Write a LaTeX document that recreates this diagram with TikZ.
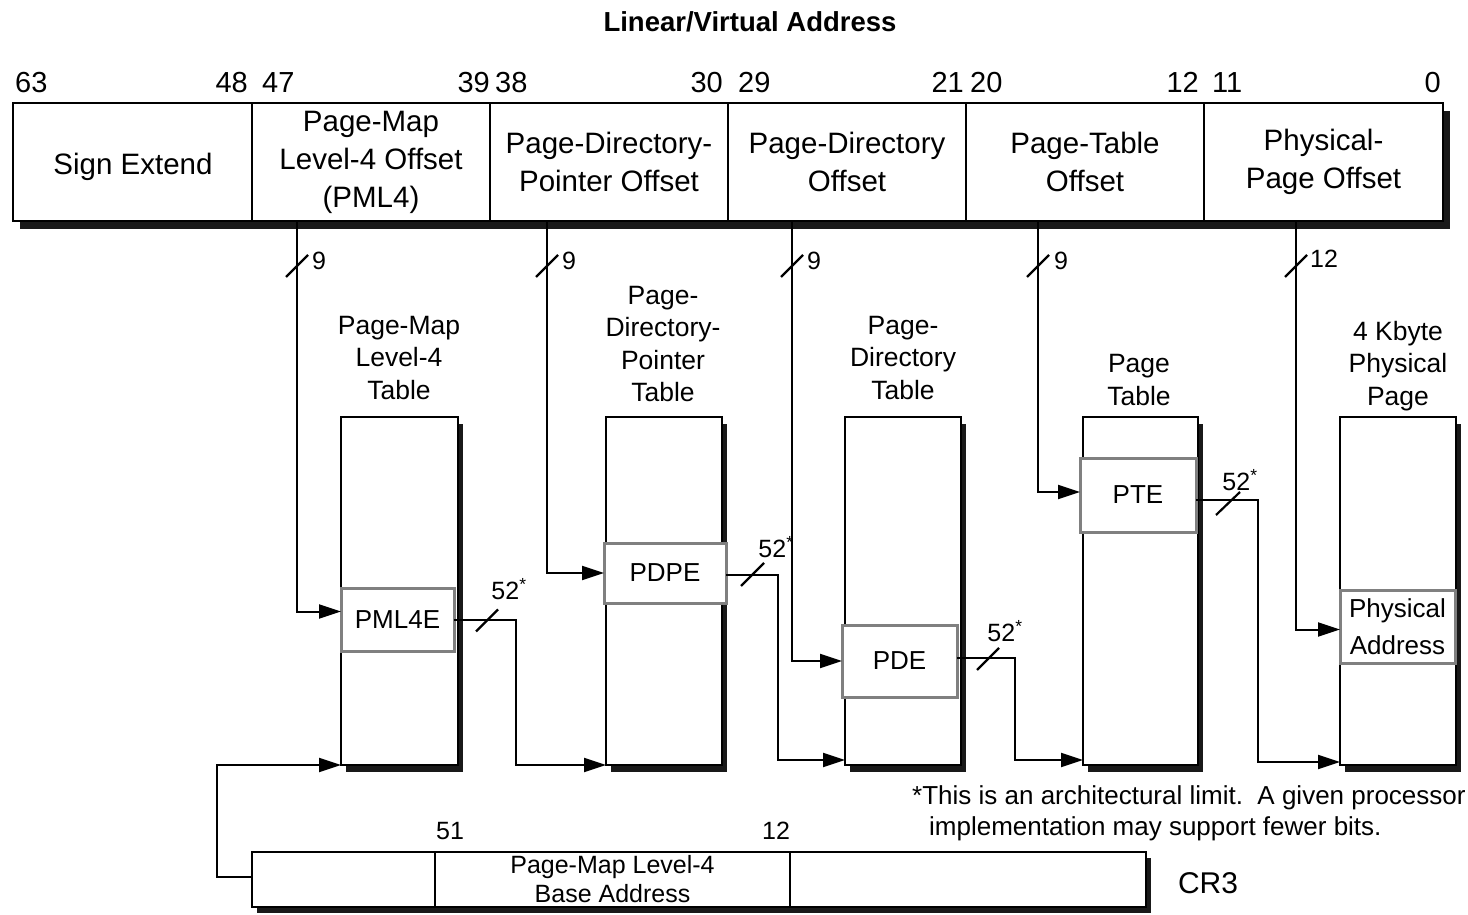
\documentclass[tikz,border=0pt]{standalone}
\usepackage{fontspec}
\setmainfont{Liberation Sans}
\usetikzlibrary{arrows.meta,shadows,calc}
\newcommand\hdrfont{\fontsize{29.5}{38}\selectfont}
\newcommand\numfont{\fontsize{29}{32}\selectfont}
\newcommand\ttlfont{\fontsize{26.5}{32.5}\selectfont}
\newcommand\entfont{\fontsize{26}{37}\selectfont}
\newcommand\smlfont{\fontsize{25}{29}\selectfont}
\newcommand\fnfont{\fontsize{26}{31}\selectfont}
\begin{document}
\begin{tikzpicture}[x=1pt,y=-1pt,
  box/.style={draw, line width=2pt, fill=white, inner sep=0pt, outer sep=0pt, anchor=north west},
  bar/.style={box, drop shadow={shadow xshift=7pt,shadow yshift=-8pt,fill=black!90,opacity=1}},
  tbl/.style={box, minimum height=348pt, drop shadow={shadow xshift=5pt,shadow yshift=-7pt,fill=black!90,opacity=1}},
  field/.style={draw, line width=2pt, inner sep=0pt, outer sep=0pt, anchor=north west, minimum height=118pt, align=center, font=\hdrfont},
  cfield/.style={draw, line width=1.8pt, inner sep=0pt, outer sep=0pt, anchor=north west, minimum height=55pt, align=center, font=\smlfont},
  entry/.style={draw=black!50, line width=3pt, fill=white, inner sep=0pt, outer sep=0pt, anchor=north west, align=center, font=\entfont},
  ttl/.style={align=center, inner sep=0pt, font=\ttlfont},
  num/.style={inner sep=0pt, font=\numfont},
  lbl/.style={inner sep=0pt, font=\smlfont},
  arr/.style={line width=2pt, -{Triangle[length=22pt,width=14pt]}},
  slash/.style={line width=2.2pt}
]
\useasboundingbox (0,0) rectangle (1468,915);

% title
\node[inner sep=0pt, font=\fontsize{27.5}{32}\selectfont\bfseries] (title) at (750,22) {Linear/Virtual Address};

% header bar
\node[bar, minimum width=1430pt, minimum height=118pt] (hdr) at (13,103) {};
\node[field, minimum width=239pt] (f1) at (13,103) {};
\node[inner sep=0pt, font=\hdrfont] (se) at (133,167) {Sign Extend};
\node[field, minimum width=238pt] (f2) at (252,103) {Page-Map\\Level-4 Offset\\(PML4)};
\node[field, minimum width=238pt] (f3) at (490,103) {Page-Directory-\\Pointer Offset};
\node[field, minimum width=238pt] (f4) at (728,103) {Page-Directory\\Offset};
\node[field, minimum width=238pt] (f5) at (966,103) {Page-Table\\Offset};
\node[field, minimum width=239pt] (f6) at (1204,103) {Physical-\\Page Offset};

% bit numbers
\node[num, anchor=base west] (b63) at (15,93) {63};
\node[num, anchor=base east] (b48) at (248,93) {48};
\node[num, anchor=base west] (b47) at (262,93) {47};
\node[num, anchor=base east] (b39) at (490,93) {39};
\node[num, anchor=base west] (b38) at (495,93) {38};
\node[num, anchor=base east] (b30) at (723,93) {30};
\node[num, anchor=base west] (b29) at (738,93) {29};
\node[num, anchor=base east] (b21) at (964,93) {21};
\node[num, anchor=base west] (b20) at (970,93) {20};
\node[num, anchor=base east] (b12) at (1199,93) {12};
\node[num, anchor=base west] (b11) at (1212,93) {11};
\node[num, anchor=base east] (b0) at (1441,93) {0};

% tables
\node[tbl, minimum width=117pt] (t1) at (341,417) {};
\node[tbl, minimum width=116pt] (t2) at (606,417) {};
\node[tbl, minimum width=116pt] (t3) at (845,417) {};
\node[tbl, minimum width=115pt] (t4) at (1083,417) {};
\node[tbl, minimum width=116pt] (t5) at (1340,417) {};

\node[ttl] (tt1) at (399,358) {Page-Map\\Level-4\\Table};
\node[ttl] (tt2) at (663,344) {Page-\\Directory-\\Pointer\\Table};
\node[ttl] (tt3) at (903,358) {Page-\\Directory\\Table};
\node[ttl] (tt4) at (1139,380) {Page\\Table};
\node[ttl] (tt5) at (1398,366) {4 Kbyte\\Physical\\Page};

% entries
\node[entry, minimum width=113pt, minimum height=63pt] (pml4e) at (341,588) {PML4E};
\node[entry, minimum width=122pt, minimum height=60pt] (pdpe) at (604,543) {PDPE};
\node[entry, minimum width=115pt, minimum height=72pt] (pde) at (842,625) {PDE};
\node[entry, minimum width=116pt, minimum height=74pt] (pte) at (1080,458) {PTE};
\node[entry, minimum width=115pt, minimum height=73pt] (pa) at (1340,590) {Physical\\Address};

% index connectors from header
\coordinate (a1) at (297,221);
\coordinate (a2) at (547,221);
\coordinate (a3) at (792,221);
\coordinate (a4) at (1038,221);
\coordinate (a5) at (1296,221);
\draw[arr] (a1) |- ($(pml4e.west)+(0,-8)$);
\draw[arr] (a2) |- (pdpe.west);
\draw[arr] (a3) |- (pde.west);
\draw[arr] (a4) |- ($(pte.west)+(0,-3)$);
\draw[arr] (a5) |- ($(pa.west)+(0,3)$);

\foreach \c in {a1,a2,a3,a4,a5}{
  \draw[slash] ($(\c)+(-11,56)$) -- ++(22,-22);
}
\node[lbl, anchor=west] (n1) at (312,261) {9};
\node[lbl, anchor=west] (n2) at (562,261) {9};
\node[lbl, anchor=west] (n3) at (807,261) {9};
\node[lbl, anchor=west] (n4) at (1054,261) {9};
\node[lbl, anchor=west] (n5) at (1310,259) {12};

% entry outputs
\coordinate (j1) at (516,0);
\coordinate (j2) at (778,0);
\coordinate (j3) at (1015,0);
\coordinate (j4) at (1258,0);
\draw[arr] (pml4e.east) -- (pml4e.east -| j1) |- (t2.south west);
\draw[arr] ($(pdpe.east)+(0,2)$) -- ($(pdpe.east -| j2)+(0,2)$) |- ($(t3.south west)+(0,-5)$);
\draw[arr] ($(pde.east)+(0,-3)$) -- ($(pde.east -| j3)+(0,-3)$) |- ($(t4.south west)+(0,-5)$);
\draw[arr] ($(pte.east)+(0,5)$) -- ($(pte.east -| j4)+(0,5)$) |- ($(t5.south west)+(0,-3)$);

\draw[slash] ($(pml4e.east)+(22,12)$) -- ++(22,-22);
\draw[slash] ($(pdpe.east)+(15,13)$) -- ++(23,-23);
\draw[slash] ($(pde.east)+(20,9)$) -- ++(22,-22);
\draw[slash] ($(pte.east)+(20,20)$) -- ++(24,-23);
\node[lbl] (m1) at (509,589) {52\textsuperscript{*}};
\node[lbl] (m2) at (776,547) {52\textsuperscript{*}};
\node[lbl] (m3) at (1005,631) {52\textsuperscript{*}};
\node[lbl] (m4) at (1240,480) {52\textsuperscript{*}};

% footnote
\node[inner sep=0pt, anchor=base west, font=\fnfont] (fn1) at (912,804) {*This is an architectural limit.\ \ A given processor};
\node[inner sep=0pt, anchor=base west, font=\fnfont] (fn2) at (929,835) {implementation may support fewer bits.};

% CR3
\node[box, minimum width=894pt, minimum height=55pt, line width=1.8pt, drop shadow={shadow xshift=5pt,shadow yshift=-6pt,fill=black!90,opacity=1}] (cr) at (252,852) {};
\node[cfield, minimum width=183pt] (c1) at (252,852) {};
\node[cfield, minimum width=355pt] (c2) at (435,852) {Page-Map Level-4\\Base Address};
\node[cfield, minimum width=356pt] (c3) at (790,852) {};
\node[lbl] (k51) at (450,831) {51};
\node[lbl] (k12) at (776,831) {12};
\node[inner sep=0pt, font=\fontsize{30}{34}\selectfont] (crl) at (1208,883) {CR3};

\coordinate (k) at (217,0);
\draw[arr] ($(c1.west)+(0,-3)$) -- ($(c1.west -| k)+(0,-3)$) |- (t1.south west);
\end{tikzpicture}
\end{document}
